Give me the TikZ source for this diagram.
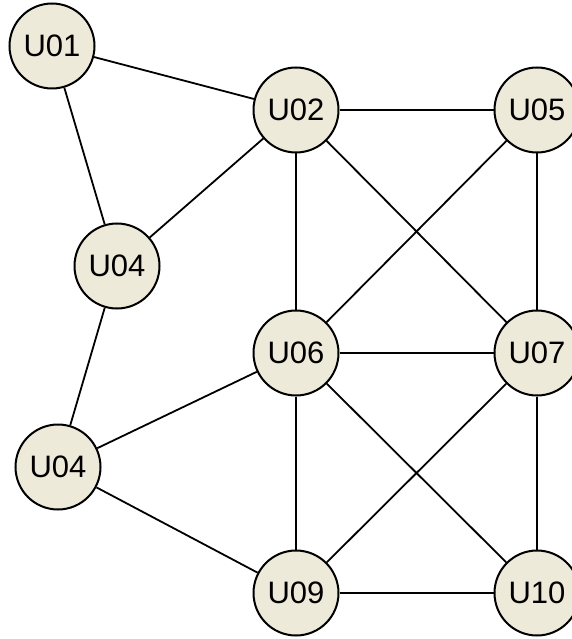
\documentclass[tikz,border=0pt]{standalone}
\usepackage{fontspec}
\setmainfont{Liberation Sans}
\definecolor{nodefill}{RGB}{238,234,217}
\begin{document}
\begin{tikzpicture}[x=1pt,y=-1pt,
  user/.style={circle,draw=black,line width=2pt,fill=nodefill,minimum size=85pt,inner sep=0pt,font=\fontsize{31}{34}\selectfont},
  link/.style={draw=black,line width=1.8pt}]
  \useasboundingbox (0,0) rectangle (572,639);
  \clip (0,0) rectangle (572,639);
  % user nodes
  \node[user] (u01) at (52,46) {U01};
  \node[user] (u02) at (296,110) {U02};
  \node[user] (u05) at (537,110) {U05};
  \node[user] (u04a) at (117,266) {U04};
  \node[user] (u06) at (296,353) {U06};
  \node[user] (u07) at (537,353) {U07};
  \node[user] (u04b) at (58,467) {U04};
  \node[user] (u09) at (296,593) {U09};
  \node[user] (u10) at (537,593) {U10};
  % connections
  \foreach \a/\b in {u01/u02,u01/u04a,u04a/u02,u02/u05,u02/u06,u02/u07,u05/u06,u05/u07,
                     u04a/u04b,u04b/u06,u04b/u09,u06/u07,u06/u09,u06/u10,u07/u09,u07/u10,u09/u10}
    \path[link] (\a) -- (\b);
\end{tikzpicture}
\end{document}
